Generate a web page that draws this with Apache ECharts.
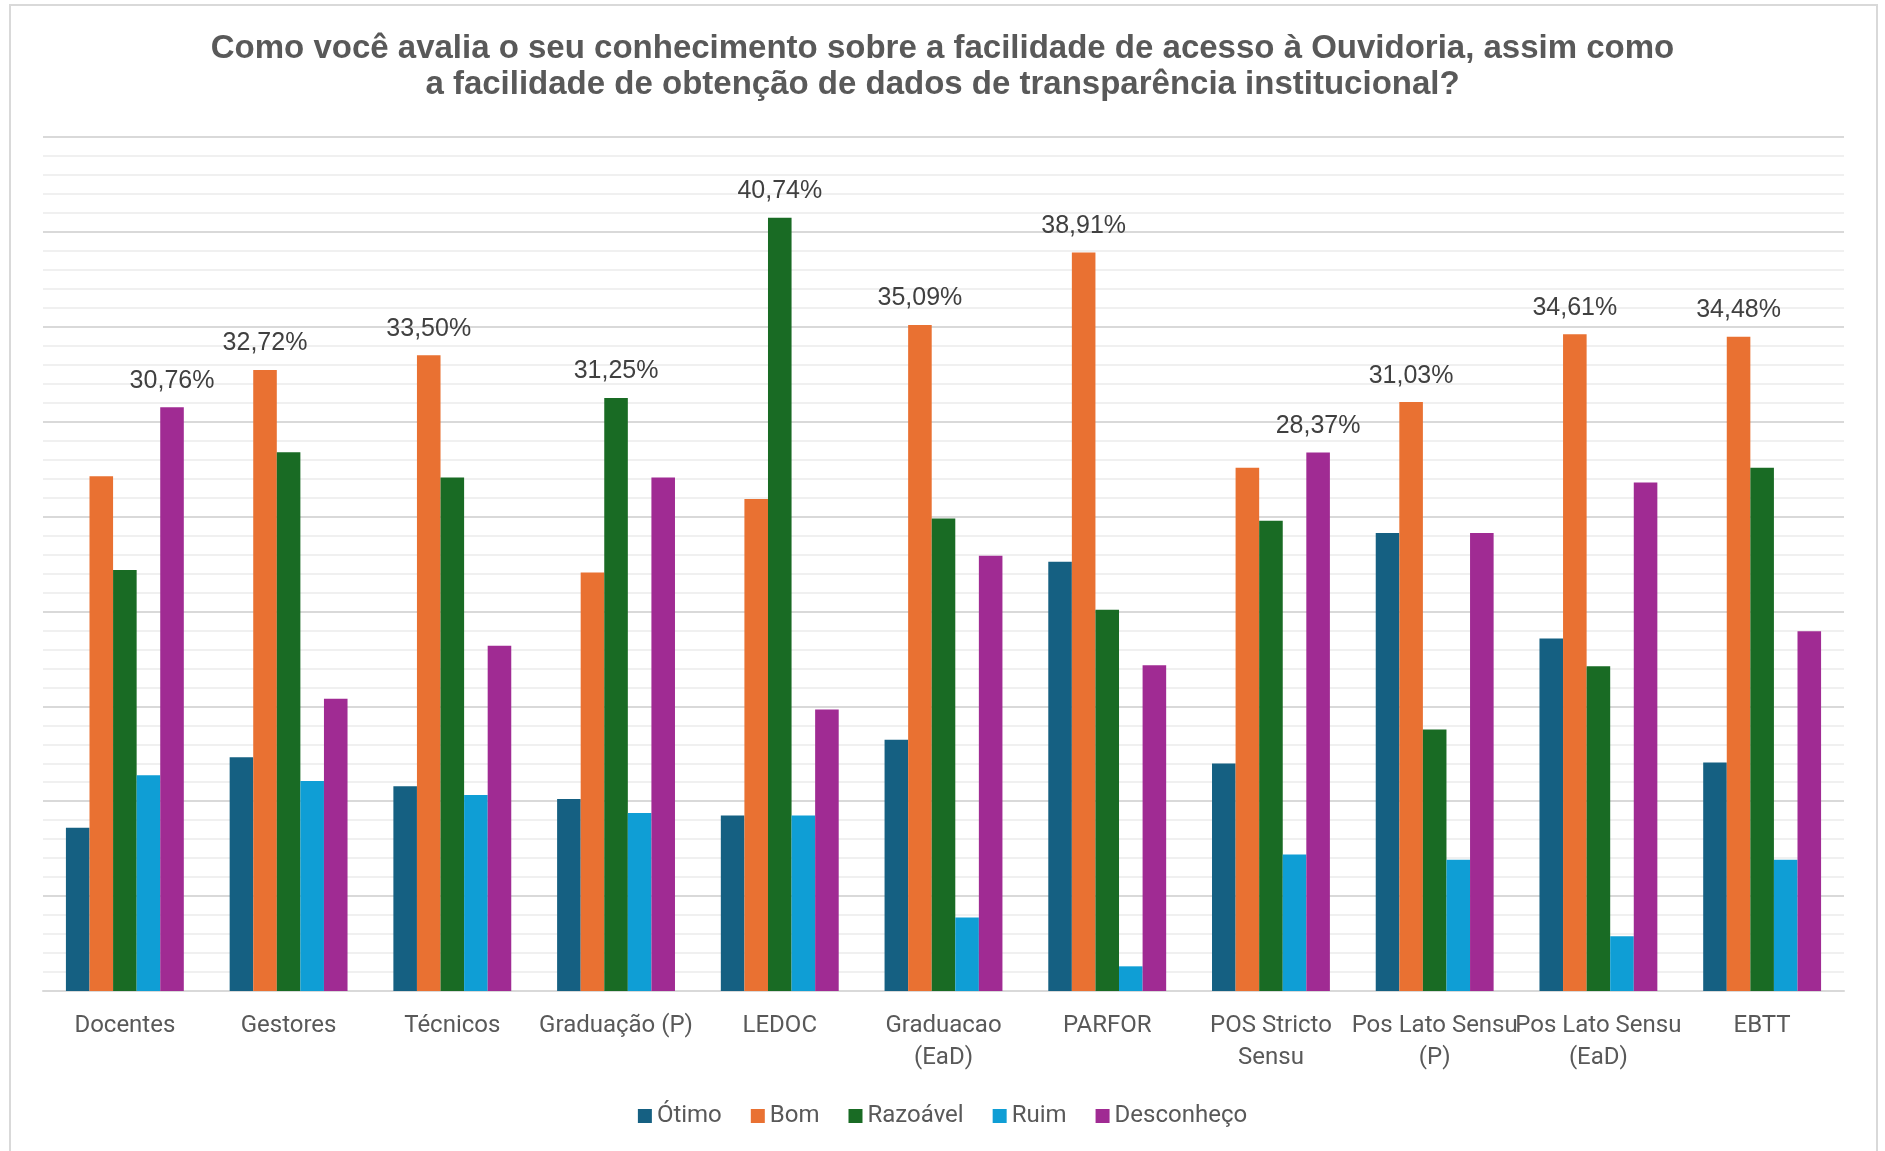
<!DOCTYPE html>
<html>
<head>
<meta charset="utf-8">
<script src="https://cdn.jsdelivr.net/npm/echarts@6/dist/echarts.min.js"></script>
<style>
  html, body { margin: 0; padding: 0; background: #fff; }
  #main { width: 1885px; height: 1151px; }
</style>
</head>
<body>
<div id="main"></div>
<script>
const categories = ['Docentes', 'Gestores', 'Técnicos', 'Graduação (P)', 'LEDOC', 'Graduacao\n(EaD)',
    'PARFOR', 'POS Stricto\nSensu', 'Pos Lato Sensu\n(P)', 'Pos Lato Sensu\n(EaD)', 'EBTT'];

const otimo      = [8.60, 12.32, 10.79, 10.12, 9.25, 13.24, 22.62, 11.99, 24.14, 18.57, 12.04];
const bom        = [27.12, 32.72, 33.50, 22.05, 25.92, 35.09, 38.91, 27.57, 31.03, 34.61, 34.48];
const razoavel   = [22.18, 28.39, 27.06, 31.25, 40.74, 24.90, 20.09, 24.78, 13.78, 17.11, 27.57];
const ruim       = [11.37, 11.07, 10.33, 9.38, 9.25, 3.87, 1.30, 7.19, 6.91, 2.88, 6.91];
const desconheco = [30.76, 15.40, 18.19, 27.06, 14.83, 22.94, 17.17, 28.37, 24.14, 26.80, 18.95];

const seriesNames = ['Ótimo', 'Bom', 'Razoável', 'Ruim', 'Desconheço'];
const seriesData = [otimo, bom, razoavel, ruim, desconheco];
const colors = ['#156082', '#E97132', '#196B24', '#0F9ED5', '#A02B93'];

// highest value of each group gets the label
const maxByCat = categories.map((c, i) => Math.max(...seriesData.map(s => s[i])));

const chart = echarts.init(document.getElementById('main'));

const option = {
    backgroundColor: '#fff',
    color: colors,
    title: {
        text: 'Como você avalia o seu conhecimento sobre a facilidade de acesso à Ouvidoria, assim como\na facilidade de obtenção de dados de transparência institucional?',
        left: 'center',
        top: 26,
        textStyle: {
            fontFamily: 'Liberation Sans',
            fontWeight: 'bold',
            fontSize: 33,
            lineHeight: 36,
            color: '#595959'
        }
    },
    graphic: [{
        type: 'rect',
        shape: { x: 10, y: 5, width: 1867, height: 1160 },
        style: { fill: 'none', stroke: '#d9d9d9', lineWidth: 2 },
        silent: true
    }],
    legend: {
        bottom: 18,
        left: 'center',
        itemWidth: 14,
        itemHeight: 14,
        itemGap: 29,
        icon: 'rect',
        textStyle: { fontFamily: 'Roboto', fontSize: 24, color: '#595959' },
        data: seriesNames
    },
    grid: {
        left: 43,
        right: 41,
        top: 137,
        bottom: 160
    },
    xAxis: {
        type: 'category',
        data: categories,
        axisTick: { show: false },
        axisLine: { lineStyle: { color: '#d9d9d9', width: 2 } },
        axisLabel: {
            interval: 0,
            margin: 19,
            fontFamily: 'Roboto',
            fontSize: 24,
            lineHeight: 32,
            color: '#595959'
        }
    },
    yAxis: {
        type: 'value',
        min: 0,
        max: 45,
        interval: 5,
        axisLabel: { show: false },
        axisLine: { show: false },
        axisTick: { show: false },
        splitLine: { lineStyle: { color: '#d9d9d9', width: 2 } },
        minorTick: { show: false, splitNumber: 5 },
        minorSplitLine: { show: true, lineStyle: { color: '#f0f0f0', width: 2 } }
    },
    series: seriesNames.map((name, k) => ({
        name: name,
        type: 'bar',
        data: seriesData[k],
        barGap: '0%',
        barCategoryGap: '28%',
        label: {
            show: true,
            position: 'top',
            distance: 14,
            fontFamily: 'Liberation Sans',
            fontSize: 25,
            color: '#404040',
            formatter: (p) => p.value === maxByCat[p.dataIndex]
                ? p.value.toFixed(2).replace('.', ',') + '%' : ''
        }
    }))
};

chart.setOption(option);
</script>
</body>
</html>
